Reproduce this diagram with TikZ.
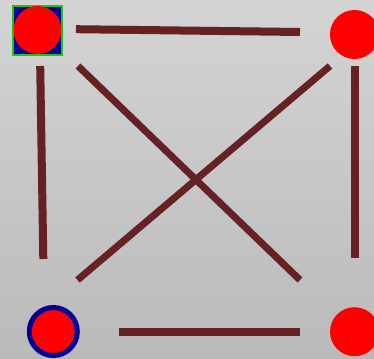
\documentclass[tikz,border=0pt]{standalone}
\usepackage{xcolor}
\usepackage{tikz}

\definecolor{bgtop}{RGB}{212,212,212}
\definecolor{bgbot}{RGB}{186,186,186}
\definecolor{edgebrown}{RGB}{102,34,34}
\definecolor{ringblue}{RGB}{0,0,150}
\definecolor{boxgreen}{RGB}{20,200,20}

\begin{document}
\begin{tikzpicture}[x=1pt,y=-1pt,
  dot/.style={circle,fill=red,minimum size=49pt,inner sep=0pt},
  edge/.style={edgebrown,line width=8pt}]
\useasboundingbox (0,0) rectangle (374,358);
\clip (0,0) rectangle (374,358);
\shade[top color=bgtop,bottom color=bgbot] (0,0) rectangle (374,358);
% corner markers
\node[draw=boxgreen,line width=2pt,fill=ringblue,minimum size=49pt,inner sep=0pt] (tlbox) at (37.6,30.2) {};
\node[dot,minimum size=48pt] (tl) at (37.5,30) {};
\node[dot] (tr) at (354.5,34.5) {};
\node[dot,draw=ringblue,line width=5pt,minimum size=48pt] (bl) at (53.3,331.5) {};
\node[dot] (br) at (354.5,331.7) {};
% edge ends
\coordinate (t1) at (76,29.2);   \coordinate (t2) at (300,32);
\coordinate (l1) at (40.2,66);   \coordinate (l2) at (43.3,259);
\coordinate (r1) at (355,66);    \coordinate (r2) at (355,258.3);
\coordinate (b1) at (119,331.5); \coordinate (b2) at (300,331.5);
\coordinate (d1) at (78,66);     \coordinate (d2) at (300,280);
\coordinate (e1) at (330,66);    \coordinate (e2) at (77.5,280);
\draw[edge] (t1) -- (t2);
\draw[edge] (l1) -- (l2);
\draw[edge] (r1) -- (r2);
\draw[edge] (b1) -- (b2);
\draw[edge,line width=7pt] (d1) -- (d2);
\draw[edge,line width=7pt] (e1) -- (e2);
\end{tikzpicture}
\end{document}
